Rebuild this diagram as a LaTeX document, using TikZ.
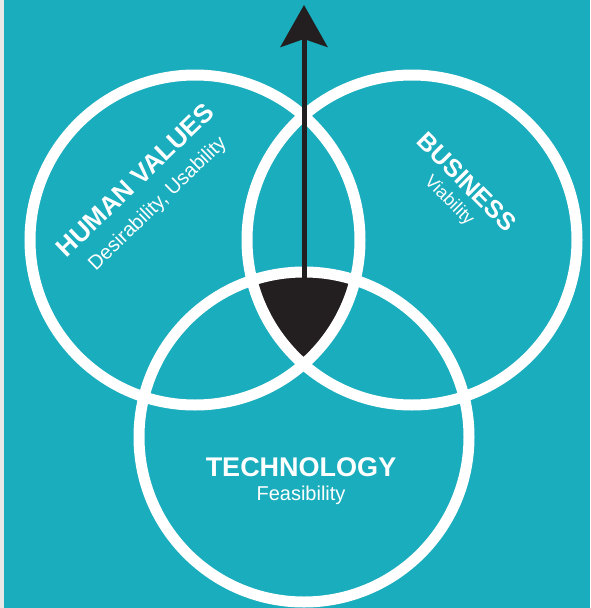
\documentclass[tikz,border=0pt]{standalone}
\usepackage{fontspec}
\setmainfont{Liberation Sans}
\usetikzlibrary{arrows.meta}
\definecolor{vennteal}{RGB}{26,173,189}
\definecolor{vennblack}{RGB}{35,31,32}
\definecolor{stripgray}{RGB}{232,232,232}

\begin{document}
\begin{tikzpicture}[x=1pt,y=-1pt,
  ring/.style={draw=white,line width=11pt},
  title/.style={text=white,inner sep=0pt,font=\bfseries\fontsize{25}{25}\selectfont},
  sub/.style={text=white,inner sep=0pt,font=\fontsize{20}{20}\selectfont}]
\useasboundingbox (0,0) rectangle (590,608);
\fill[vennteal] (0,0) rectangle (590,608);
\fill[stripgray] (0,0) rectangle (3.7,608);
\coordinate (human)    at (195,240);
\coordinate (business) at (412,240);
\coordinate (tech)     at (304,437);
\begin{scope}
  \clip (human) circle (165);
  \clip (business) circle (165);
  \fill[vennblack] (tech) circle (165);
\end{scope}
\draw[ring] (human) circle (165);
\draw[ring] (business) circle (165);
\draw[ring] (tech) circle (165);
\coordinate (core) at (304,290);
\coordinate (top)  at (304,5);
\draw[vennblack,line width=5pt,-{Stealth[length=42pt,width=47pt,inset=8pt]}] (core) -- (top);
\node[title,rotate=44,font=\bfseries\fontsize{26}{26}\selectfont] (humanlbl) at (135,180) {HUMAN VALUES};
\node[sub,rotate=44]    (humansub) at (158,204) {Desirability, Usability};
\node[title,rotate=-45] (bizlbl)   at (467,182) {BUSINESS};
\node[sub,rotate=-45,font=\fontsize{18}{18}\selectfont] (bizsub) at (449,201) {Viability};
\node[title,font=\bfseries\fontsize{27}{27}\selectfont] (techlbl) at (301,467) {TECHNOLOGY};
\node[sub]              (techsub)  at (301,495) {Feasibility};
\end{tikzpicture}
\end{document}
